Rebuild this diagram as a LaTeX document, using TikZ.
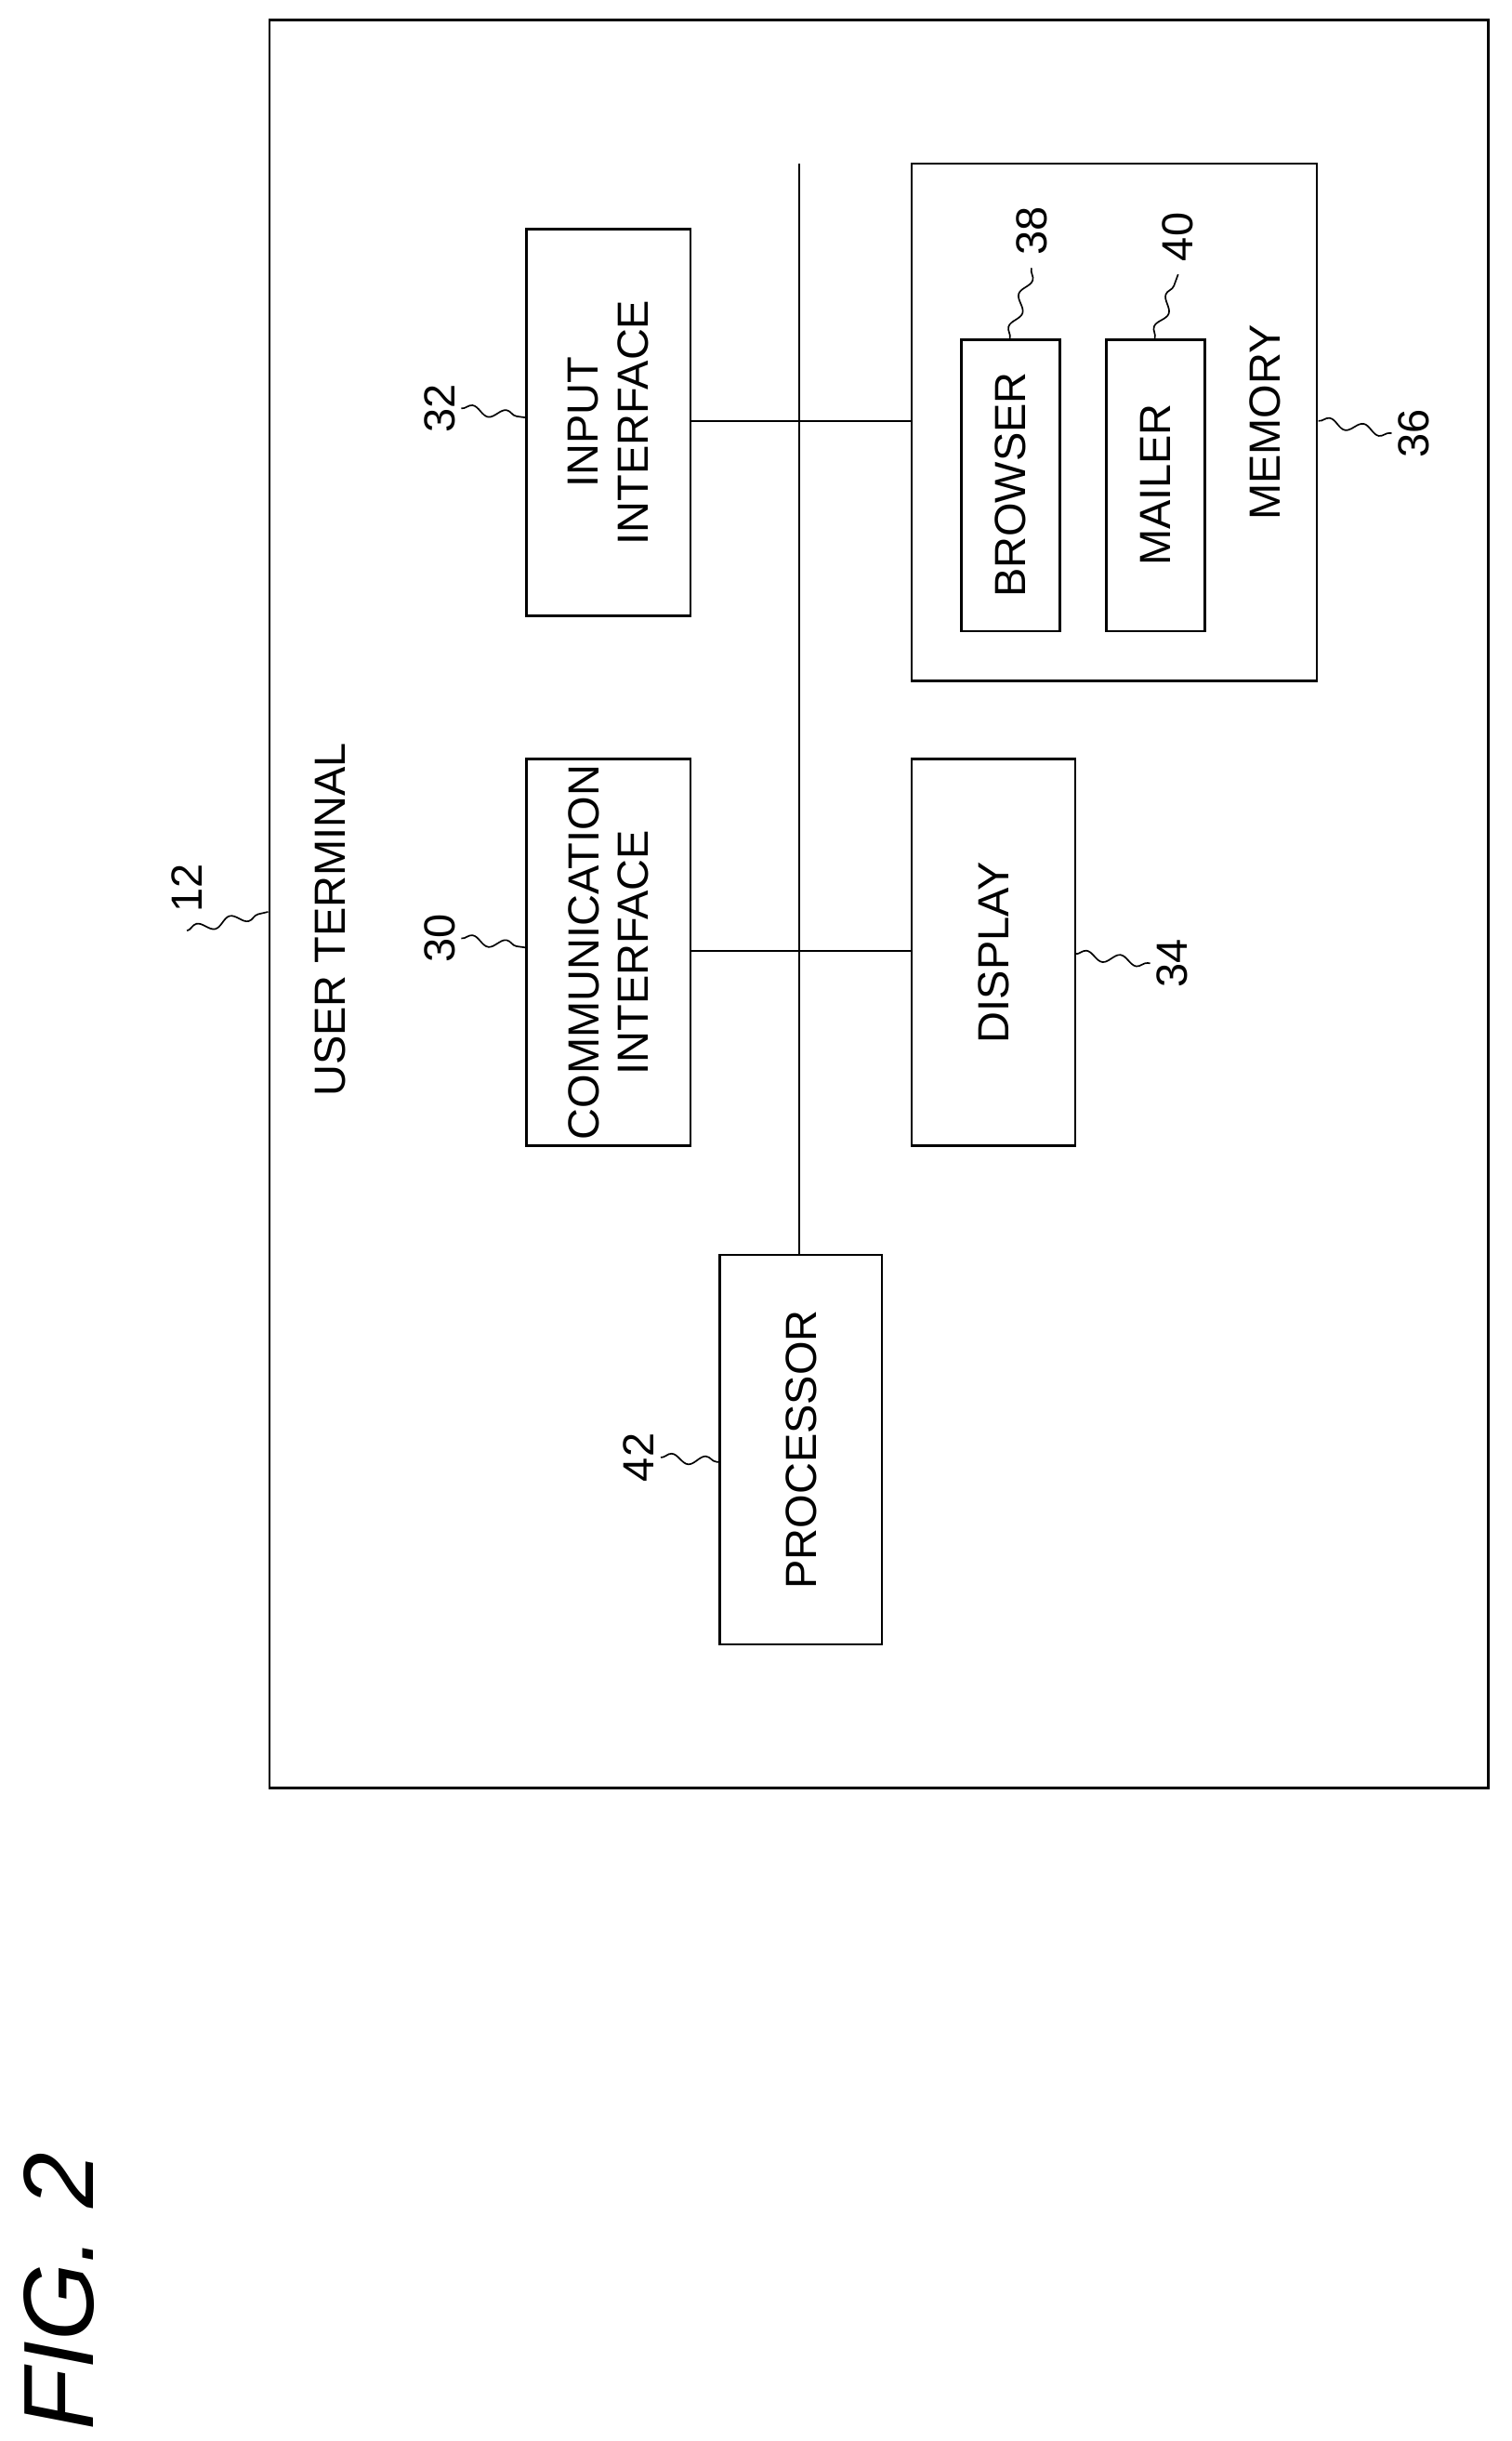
\documentclass[tikz,border=0pt]{standalone}
\usepackage{fontspec}
\setmainfont{Liberation Sans}
\usetikzlibrary{decorations.pathmorphing}
\begin{document}
\begin{tikzpicture}[x=1pt,y=-1pt,
  box/.style={draw,line width=1.6pt,minimum width=#1,inner sep=0pt},
  txt/.style={rotate=90,font=\fontsize{28}{32}\selectfont,align=center},
  num/.style={rotate=90,font=\fontsize{28}{32}\selectfont},
  lead/.style={line width=1pt,decorate,decoration={snake,amplitude=3pt,segment length=22pt}}]
\useasboundingbox (0,0) rectangle (970,1566);
% outer
\draw[line width=1.6pt] (173,13) rectangle (955,1147);
\coordinate (ob) at (172,585);
\node[txt] (ut) at (212,590) {USER TERMINAL};
\node[num] (n12) at (120,570) {12};
\draw[lead] (n12.west) ++(0,8) -- (ob);
% boxes
\draw[line width=1.6pt] (338,147) rectangle (443,395);
\node[txt] (ii) at (390.5,271) {INPUT\\INTERFACE};
\draw[line width=1.6pt] (338,487) rectangle (443,735);
\node[txt] (ci) at (390.5,611) {COMMUNICATION\\INTERFACE};
\draw[line width=1.6pt] (585,105) rectangle (845,437);
\node[txt] (mem) at (812,271) {MEMORY};
\draw[line width=1.6pt] (617,218) rectangle (680,405);
\node[txt] (br) at (648.5,311) {BROWSER};
\draw[line width=1.6pt] (710,218) rectangle (773,405);
\node[txt] (ma) at (741.5,311) {MAILER};
\draw[line width=1.6pt] (585,487) rectangle (690,735);
\node[txt] (di) at (637.5,611) {DISPLAY};
\draw[line width=1.6pt] (462,805) rectangle (566,1055);
\node[txt] (pr) at (514,930) {PROCESSOR};
% bus
\coordinate (bt) at (513,105);
\coordinate (bb) at (513,805);
\draw[line width=1.4pt] (bt) -- (bb);
\coordinate (i1) at (443,270); \coordinate (m1) at (585,270);
\coordinate (c1) at (443,610); \coordinate (d1) at (585,610);
\draw[line width=1.4pt] (i1) -- (m1);
\draw[line width=1.4pt] (c1) -- (d1);
% labels
\node[num] (n32) at (282,262) {32};
\coordinate (p32) at (338,268);
\draw[lead] (296,262) -- (p32);
\node[num] (n30) at (282,602) {30};
\coordinate (p30) at (338,608);
\draw[lead] (296,602) -- (p30);
\node[num] (n42) at (410,935) {42};
\coordinate (p42) at (462,938);
\draw[lead] (424,935) -- (p42);
\node[num] (n34) at (752,618) {34};
\coordinate (p34) at (690,612);
\draw[lead] (p34) -- (738,618);
\node[num] (n36) at (907,278) {36};
\coordinate (p36) at (846,270);
\draw[lead] (p36) -- (893,278);
\node[num] (n38) at (662,148) {38};
\coordinate (p38) at (648,217);
\draw[lead] (p38) -- (662,172);
\node[num] (n40) at (756,152) {40};
\coordinate (p40) at (741,217);
\draw[lead] (p40) -- (756,176);
% fig
\node[rotate=90,font=\fontsize{64}{70}\selectfont\itshape] (fig) at (38,1470) {FIG. 2};
\end{tikzpicture}
\end{document}
